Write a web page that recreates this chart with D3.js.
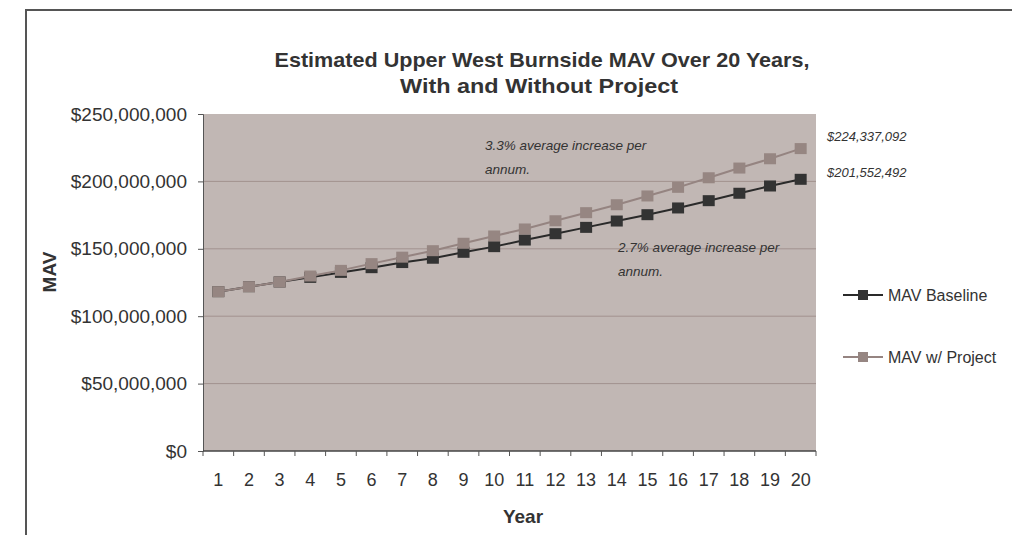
<!DOCTYPE html>
<html>
<head>
<meta charset="utf-8">
<script src="https://cdn.jsdelivr.net/npm/d3@7"></script>
<style>
  body{margin:0;background:#fff;}
  svg{display:block;font-family:"Liberation Sans",Arial,sans-serif;}
</style>
</head>
<body>
<svg id="box" width="1012" height="535"></svg>
<script>
// values (millions of $)
let years=[1,2,3,4,5,6,7,8,9,10,11,12,13,14,15,16,17,18,19,20];
let baseline=[118.2,121.9,125.4,128.8,132.5,136.0,139.8,143.0,147.4,151.6,156.5,161.2,165.9,170.6,175.3,180.3,185.7,191.2,196.6,201.552492];
let project=[118.2,121.9,125.4,129.8,134.0,139.0,143.8,148.6,154.1,159.5,164.7,170.8,176.8,182.7,189.2,195.6,202.7,209.9,216.8,224.337092];
let yTicks=[0,50,100,150,200,250];
let seriesNames=["MAV Baseline","MAV w/ Project"];

let box=d3.select("#box");
let pLeft=203,pRight=816,pTop=114,pBottom=451;

// outer frame
box.append("rect").attr("x",26).attr("y",10).attr("width",1010).attr("height",600)
  .attr("fill","none").attr("stroke","#555").attr("stroke-width",2);

let xScale=d3.scaleBand().domain(years).range([pLeft,pRight]);
let yScale=d3.scaleLinear().domain([0,250]).range([pBottom,pTop]);

box.append("rect").attr("x",pLeft).attr("y",pTop).attr("width",pRight-pLeft).attr("height",pBottom-pTop).attr("fill","#c1b7b4");

// gridlines
box.selectAll(".grid").data(yTicks.slice(1,-1)).enter().append("line")
  .attr("x1",pLeft).attr("x2",pRight).attr("y1",d=>yScale(d)).attr("y2",d=>yScale(d))
  .style("stroke","#a2928f").style("stroke-width",1);

let fmt=d=>"$"+d3.format(",")(d*1e6);
let yAxis=d3.axisLeft(yScale).tickValues(yTicks).tickSize(5).tickPadding(11).tickFormat(fmt);
let gy=box.append("g").attr("transform","translate("+pLeft+",0)").call(yAxis);
gy.select(".domain").attr("stroke","#555");
gy.selectAll(".tick line").attr("stroke","#555");
gy.selectAll("text").style("font-size","19px").style("font-family","Liberation Sans, Arial, sans-serif").attr("fill","#333");

// x axis: ticks at category boundaries
let xAxisLine=box.append("g");
xAxisLine.append("line").attr("x1",pLeft).attr("x2",pRight).attr("y1",pBottom).attr("y2",pBottom).style("stroke","#444").style("stroke-width",1.5);
let bounds=years.map(d=>xScale(d)).concat([pRight]);
xAxisLine.selectAll(".xt").data(bounds).enter().append("line")
  .attr("x1",d=>d).attr("x2",d=>d).attr("y1",pBottom).attr("y2",pBottom+5).style("stroke","#555");
box.selectAll(".xl").data(years).enter().append("text")
  .attr("x",d=>xScale(d)+xScale.bandwidth()/2).attr("y",pBottom+35)
  .attr("text-anchor","middle").style("font-size","18px").attr("fill","#333").text(d=>d);

let line=d3.line().x((d,i)=>xScale(years[i])+xScale.bandwidth()/2).y(d=>yScale(d));
let colors=["#2a2a2a","#958481"];
let marks=["#333333","#968682"];
[baseline,project].forEach((s,k)=>{
  box.append("path").datum(s).attr("d",line).attr("fill","none").attr("stroke",colors[k]).attr("stroke-width",2);
  box.selectAll(".m"+k).data(s).enter().append("rect")
    .attr("x",(d,i)=>xScale(years[i])+xScale.bandwidth()/2-6).attr("y",d=>yScale(d)-5.5)
    .attr("width",12).attr("height",11).attr("fill",marks[k]);
});

// title
box.append("text").attr("x",542).attr("y",67).attr("text-anchor","middle")
  .attr("textLength",535).attr("lengthAdjust","spacingAndGlyphs")
  .style("font-size","21px").style("font-weight","bold").attr("fill","#333")
  .text("Estimated Upper West Burnside MAV Over 20 Years,");
box.append("text").attr("x",539).attr("y",93).attr("text-anchor","middle")
  .attr("textLength",278).attr("lengthAdjust","spacingAndGlyphs")
  .style("font-size","21px").style("font-weight","bold").attr("fill","#333")
  .text("With and Without Project");

// axis titles
box.append("text").attr("x",523).attr("y",523).attr("text-anchor","middle")
  .style("font-size","19px").style("font-weight","bold").attr("fill","#333").text("Year");
box.append("text").attr("transform","translate(56,272) rotate(-90)").attr("text-anchor","middle")
  .style("font-size","19px").style("font-weight","bold").attr("fill","#333").text("MAV");

// annotations
let ann=[["3.3% average increase per",485,150],["annum.",485,174],["2.7% average increase per",618,252],["annum.",618,276]];
box.selectAll(".ann").data(ann).enter().append("text")
  .attr("x",d=>d[1]).attr("y",d=>d[2]).style("font-size","13.5px").style("font-style","italic").attr("fill","#333").text(d=>d[0]);

let endLabels=[[project[19],141],[baseline[19],177]];
box.selectAll(".end").data(endLabels).enter().append("text")
  .attr("x",827).attr("y",d=>d[1]).style("font-size","13px").style("font-style","italic").attr("fill","#333")
  .text(d=>"$"+d3.format(",")(Math.round(d[0]*1e6)));

// legend
seriesNames.forEach((n,k)=>{
  let y=295+k*62;
  box.append("line").attr("x1",843).attr("x2",883).attr("y1",y).attr("y2",y).attr("stroke",colors[k]).attr("stroke-width",2);
  box.append("rect").attr("x",858).attr("y",y-5).attr("width",10).attr("height",10).attr("fill",marks[k]);
  box.append("text").attr("x",888).attr("y",y+6).style("font-size","16px").attr("fill","#333").text(n);
});
</script>
</body>
</html>
